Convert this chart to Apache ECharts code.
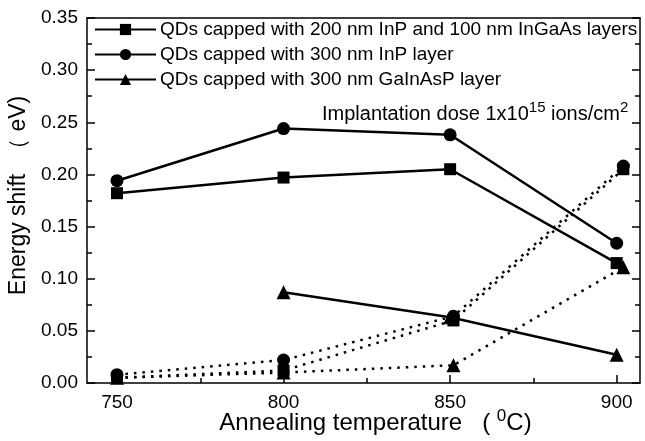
<!DOCTYPE html>
<html>
<head>
<meta charset="utf-8">
<script src="https://cdn.jsdelivr.net/npm/echarts@6/dist/echarts.min.js"></script>
<style>
  html, body { margin: 0; padding: 0; background: #fff; }
  #chart { width: 645px; height: 441px; }
</style>
</head>
<body>
<div id="chart"></div>
<script>
// annealing temperatures (solid lines) and the dotted (implanted) points
var temps = [750, 800, 850, 900];
var dotTemps = [750, 800, 851, 902];

var seriesNames = [
  'QDs capped with 200 nm InP and 100 nm InGaAs layers',
  'QDs capped with 300 nm InP layer',
  'QDs capped with 300 nm GaInAsP layer'
];

// energy shift (eV), solid lines
var squareSolid = [0.182, 0.197, 0.205, 0.115];
var circleSolid = [0.194, 0.244, 0.238, 0.134];
var triangleSolid = [null, 0.087, 0.063, 0.027];

// dotted lines
var squareDot = [0.005, 0.012, 0.060, 0.205];
var circleDot = [0.008, 0.022, 0.064, 0.208];
var triangleDot = [0.005, 0.010, 0.017, 0.111];

var majorTicks = [750, 800, 850, 900];
var minorTicks = [775, 825, 875];

var font = 'Arial, "Liberation Sans", sans-serif';

function pairs(xs, ys) {
  return xs.map(function (x, i) { return [x, ys[i]]; })
}

var chart = echarts.init(document.getElementById('chart'));

function lineSeries(name, xs, ys, symbol, size, dotted) {
  return {
    name: name,
    type: 'line',
    data: pairs(xs, ys),
    symbol: symbol,
    symbolSize: size,
    itemStyle: { color: '#000' },
    lineStyle: dotted
      ? { color: '#000', width: 2.5, type: [2.5, 6] }
      : { color: '#000', width: 2.5 },
    z: dotted ? 2 : 3,
    animation: false
  }
}

var tickStyle = { color: '#000', width: 1.5 };

chart.setOption({
  backgroundColor: '#fff',
  textStyle: { fontFamily: font },
  grid: { left: 87, right: 5, top: 18, bottom: 58, outerBoundsMode: 'none' },
  legend: {
    orient: 'vertical',
    left: 94,
    top: 20,
    padding: 0,
    itemWidth: 61,
    itemHeight: 14,
    itemGap: 6,
    data: seriesNames,
    textStyle: { fontFamily: font, fontSize: 19, color: '#000', padding: [0, 0, 0, -1] }
  },
  graphic: [{
    type: 'text',
    left: 322,
    top: 100,
    style: {
      text: '{a|Implantation dose 1x10}{s|15}{a| ions/cm}{s|2}',
      verticalAlign: 'bottom',
      rich: {
        a: { fontFamily: font, fontSize: 20, fill: '#000', verticalAlign: 'bottom' },
        s: { fontFamily: font, fontSize: 15, fill: '#000', verticalAlign: 'bottom', padding: [0, 0, 9, 0] }
      }
    }
  }],
  xAxis: [{
    type: 'value',
    min: 741,
    max: 907,
    position: 'bottom',
    name: '{a|Annealing temperature   ( }{s|0}{a|C)}',
    nameLocation: 'middle',
    nameMoveOverlap: false,
    nameGap: 25,
    nameTextStyle: {
      verticalAlign: 'top',
      padding: [0, 0, 0, 24],
      rich: {
        a: { fontFamily: font, fontSize: 24, color: '#000', verticalAlign: 'bottom' },
        s: { fontFamily: font, fontSize: 17, color: '#000', verticalAlign: 'bottom', padding: [0, 0, 10, 0] }
      }
    },
    axisLine: { lineStyle: tickStyle },
    axisTick: { inside: true, length: 8, customValues: majorTicks, lineStyle: tickStyle },
    axisLabel: { customValues: majorTicks, fontSize: 19, color: '#000', margin: 10, fontFamily: font },
    splitLine: { show: false }
  }, {
    type: 'value',
    min: 741,
    max: 907,
    position: 'bottom',
    axisLine: { show: false },
    axisTick: { inside: true, length: 5, customValues: minorTicks, lineStyle: tickStyle },
    axisLabel: { show: false },
    splitLine: { show: false }
  }, {
    type: 'value',
    min: 741,
    max: 907,
    position: 'top',
    axisLine: { lineStyle: tickStyle },
    axisTick: { show: false },
    axisLabel: { show: false },
    splitLine: { show: false }
  }],
  yAxis: [{
    type: 'value',
    min: 0,
    max: 0.35,
    interval: 0.05,
    minorTick: { show: true, splitNumber: 2, length: 5, lineStyle: tickStyle },
    name: 'Energy shift  （ eV)',
    nameLocation: 'middle',
    nameGap: 57,
    nameTextStyle: { fontFamily: font, fontSize: 23, color: '#000', padding: [0, 0, 0, 10] },
    axisLine: { show: true, lineStyle: tickStyle },
    axisTick: { show: true, inside: true, length: 8, lineStyle: tickStyle },
    axisLabel: {
      fontSize: 19, color: '#000', margin: 9, fontFamily: font,
      formatter: function (v) { return v.toFixed(2); }
    },
    splitLine: { show: false }
  }, {
    type: 'value',
    min: 0,
    max: 0.35,
    interval: 0.05,
    position: 'right',
    minorTick: { show: true, splitNumber: 2, length: 5, lineStyle: tickStyle },
    axisLine: { show: true, lineStyle: tickStyle },
    axisTick: { show: true, inside: true, length: 8, lineStyle: tickStyle },
    axisLabel: { show: false },
    splitLine: { show: false }
  }],
  series: [
    lineSeries(seriesNames[0], temps, squareSolid, 'rect', 12, false),
    lineSeries(seriesNames[1], temps, circleSolid, 'circle', 13, false),
    lineSeries(seriesNames[2], temps, triangleSolid, 'triangle', 14, false),
    lineSeries('sq-dot', dotTemps, squareDot, 'rect', 12, true),
    lineSeries('ci-dot', dotTemps, circleDot, 'circle', 13, true),
    lineSeries('tr-dot', dotTemps, triangleDot, 'triangle', 14, true)
  ]
});
</script>
</body>
</html>
